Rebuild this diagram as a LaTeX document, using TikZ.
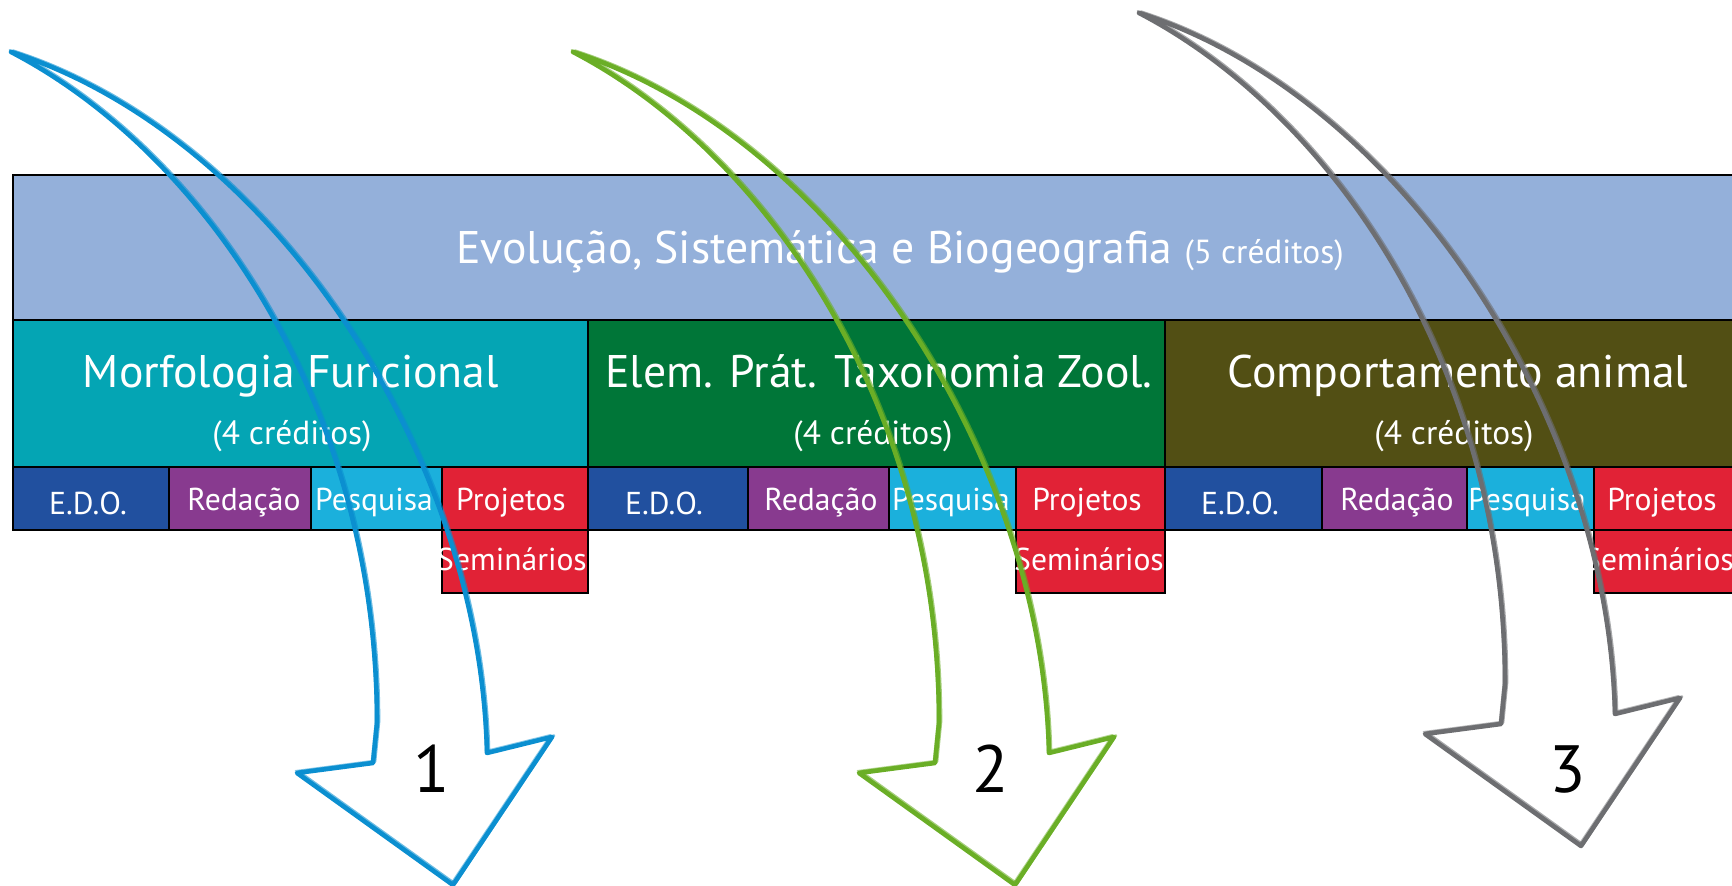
\documentclass[tikz,border=0pt]{standalone}
\usepackage{fontspec}
\setmainfont{PT Sans}

\definecolor{topblue}{RGB}{148,176,218}
\definecolor{morfteal}{RGB}{4,165,180}
\definecolor{taxgreen}{RGB}{0,118,56}
\definecolor{compolive}{RGB}{82,79,20}
\definecolor{edoblue}{RGB}{33,80,159}
\definecolor{redpurple}{RGB}{136,58,143}
\definecolor{pescyan}{RGB}{27,176,220}
\definecolor{projred}{RGB}{225,34,54}
\definecolor{arrowblue}{RGB}{11,143,208}
\definecolor{arrowgreen}{RGB}{106,174,38}
\definecolor{arrowgray}{RGB}{109,110,113}

\begin{document}
\begin{tikzpicture}[x=0.01cm,y=-0.01cm,
    cell/.style={draw=black,line width=0.8pt},
    big/.style={text=white,inner sep=0pt,anchor=base,font=\fontsize{13}{15}\selectfont},
    credits/.style={text=white,inner sep=0pt,anchor=base,font=\fontsize{9.5}{11}\selectfont},
    tag/.style={text=white,inner sep=0pt,anchor=base,font=\fontsize{9}{11}\selectfont},
    num/.style={inner sep=0pt,anchor=base,font=\fontsize{19}{22}\selectfont},
    sketch/.style={line width=1.3pt,line join=round,
      postaction={draw,line width=0.7pt,opacity=0.6,transform canvas={shift={(0.6pt,0.4pt)}}},
      postaction={draw,line width=0.5pt,opacity=0.5,transform canvas={shift={(-0.4pt,0.6pt)}}}}]
  \useasboundingbox (0,0) rectangle (1732,886);
  \clip (0,0) rectangle (1732,886);

  % Top course
  \filldraw[cell,fill=topblue] (13,175) rectangle (1760,320);
  \node[big] (evol) at (900,264) {Evolução, Sistemática e Biogeografia {\fontsize{9.5}{11}\selectfont (5 créditos)}};

  % Column 1
  \filldraw[cell,fill=morfteal] (13,320) rectangle (588,467);
  \node[big] (morf) at (291,388) {Morfologia Funcional};
  \node[credits] (morfcr) at (292,445) {(4 créditos)};
  \filldraw[cell,fill=edoblue] (13,467) rectangle (169,530);
  \filldraw[cell,fill=redpurple] (169,467) rectangle (311,530);
  \filldraw[cell,fill=pescyan] (311,467) rectangle (442,530);
  \filldraw[cell,fill=projred] (442,467) rectangle (588,530);
  \filldraw[cell,fill=projred] (442,530) rectangle (588,593);
  \node[tag] (edoA) at (88,515) {E.D.O.};
  \node[tag] (redA) at (244,511) {Redação};
  \node[tag] (pesA) at (374,511) {Pesquisa};
  \node[tag] (proA) at (511,511) {Projetos};
  \node[tag] (semA) at (512,571) {Seminários};

  % Column 2
  \filldraw[cell,fill=taxgreen] (588,320) rectangle (1165,467);
  \node[big] (taxo) at (879,388) {Elem. Prát. Taxonomia Zool.};
  \node[credits] (taxocr) at (873,445) {(4 créditos)};
  \filldraw[cell,fill=edoblue] (588,467) rectangle (748,530);
  \filldraw[cell,fill=redpurple] (748,467) rectangle (889,530);
  \filldraw[cell,fill=pescyan] (889,467) rectangle (1016,530);
  \filldraw[cell,fill=projred] (1016,467) rectangle (1165,530);
  \filldraw[cell,fill=projred] (1016,530) rectangle (1165,593);
  \node[tag] (edoB) at (664,515) {E.D.O.};
  \node[tag] (redB) at (821,511) {Redação};
  \node[tag] (pesB) at (951,511) {Pesquisa};
  \node[tag] (proB) at (1087,511) {Projetos};
  \node[tag] (semB) at (1089,571) {Seminários};

  % Column 3
  \filldraw[cell,fill=compolive] (1165,320) rectangle (1760,467);
  \node[big] (comp) at (1458,388) {Comportamento animal};
  \node[credits] (compcr) at (1454,445) {(4 créditos)};
  \filldraw[cell,fill=edoblue] (1165,467) rectangle (1322,530);
  \filldraw[cell,fill=redpurple] (1322,467) rectangle (1467,530);
  \filldraw[cell,fill=pescyan] (1467,467) rectangle (1594,530);
  \filldraw[cell,fill=projred] (1594,467) rectangle (1760,530);
  \filldraw[cell,fill=projred] (1594,530) rectangle (1760,593);
  \node[tag] (edoC) at (1240,515) {E.D.O.};
  \node[tag] (redC) at (1397,511) {Redação};
  \node[tag] (pesC) at (1527,511) {Pesquisa};
  \node[tag] (proC) at (1662,511) {Projetos};
  \node[tag] (semC) at (1659,571) {Seminários};

  % Arrow 1 (blue)
  \draw[sketch,arrowblue] (11,52) .. controls (200,150) and (377,400) .. (377,723)
    -- (373,763) -- (297,773) -- (453,885) -- (552,737) -- (487,753)
    .. controls (480,450) and (270,135) .. (11,52) -- cycle;
  \node[num] (one) at (432,793) {1};

  % Arrow 2 (green)
  \draw[sketch,arrowgreen,shift={(562,0)}] (11,52) .. controls (200,150) and (377,400) .. (377,723)
    -- (373,763) -- (297,773) -- (453,885) -- (552,737) -- (487,753)
    .. controls (480,450) and (270,135) .. (11,52) -- cycle;
  \node[num] (two) at (991,793) {2};

  % Arrow 3 (gray)
  \draw[sketch,arrowgray,shift={(1128,-39)}] (11,52) .. controls (200,150) and (377,400) .. (377,723)
    -- (373,763) -- (297,773) -- (453,885) -- (552,737) -- (487,753)
    .. controls (480,450) and (270,135) .. (11,52) -- cycle;
  \node[num] (three) at (1568,793) {3};
\end{tikzpicture}
\end{document}
